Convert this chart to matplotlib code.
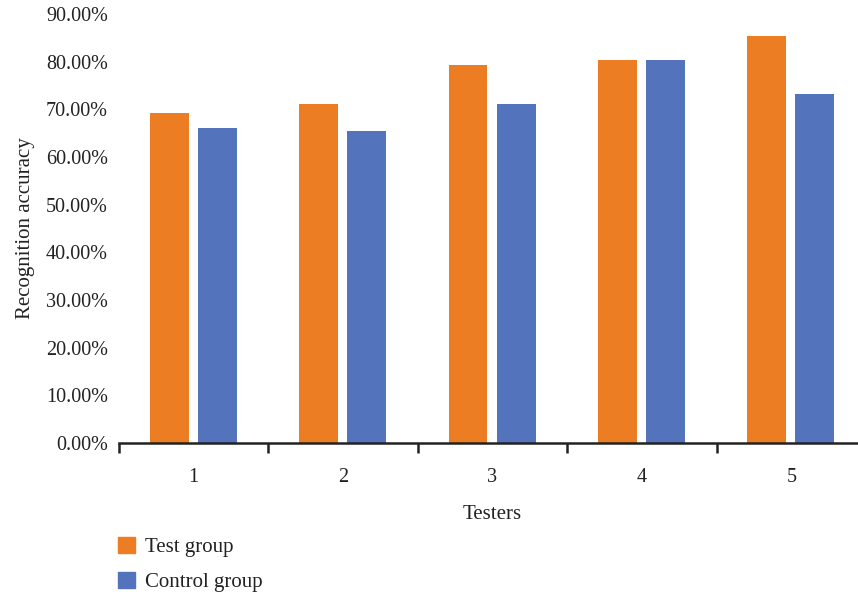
import numpy as np
import matplotlib
matplotlib.use('Agg')
import matplotlib.pyplot as plt
from matplotlib.patches import Patch
from matplotlib.ticker import FuncFormatter, FixedLocator

testers = ['1', '2', '3', '4', '5']
test_group = [0.692, 0.711, 0.792, 0.803, 0.853]
control_group = [0.660, 0.654, 0.711, 0.803, 0.732]

orange = '#ED7D22'
blue = '#5374BC'

plt.rcParams['font.family'] = ['Liberation Serif', 'DejaVu Serif']

fig = plt.figure(figsize=(8.58, 5.97), dpi=100)
ax = fig.add_axes([119 / 858, 1 - 443 / 597, 747 / 858, 429 / 597])

x = np.arange(len(testers))
w = 0.26
ax.bar(x - 0.164, test_group, w, color=orange)
ax.bar(x + 0.158, control_group, w, color=blue)

ax.set_xlim(-0.5, 4.5)
ax.set_ylim(0, 0.9)
ax.set_yticks(np.arange(0, 0.91, 0.1))
ax.yaxis.set_major_formatter(FuncFormatter(lambda v, p: '%.2f%%' % (v * 100)))
ax.tick_params(axis='y', length=0, labelsize=14.5, pad=8, colors='#222222')

ax.set_xticks(x)
ax.set_xticklabels(testers)
ax.xaxis.set_minor_locator(FixedLocator(np.arange(-0.5, 5, 1)))
ax.tick_params(axis='x', which='major', length=0, labelsize=14.5, pad=18, colors='#222222')
ax.tick_params(axis='x', which='minor', length=7, width=1.8, direction='out', color='#222222')

for s in ['top', 'right', 'left']:
    ax.spines[s].set_visible(False)
ax.spines['bottom'].set_linewidth(1.8)
ax.spines['bottom'].set_color('#222222')

ax.set_xlabel('Testers', fontsize=15, labelpad=13, color='#222222')
ax.set_ylabel('Recognition accuracy', fontsize=15, labelpad=8, color='#222222')

handles = [Patch(color=orange, label='Test group'), Patch(color=blue, label='Control group')]
fig.legend(handles=handles, loc='upper left', bbox_to_anchor=(99 / 858, 1 - 518 / 597),
           frameon=False, fontsize=15, handlelength=0.85, handleheight=0.85,
           handletextpad=0.45, labelspacing=0.7, labelcolor='#222222')

fig.savefig('out.png', dpi=100)
